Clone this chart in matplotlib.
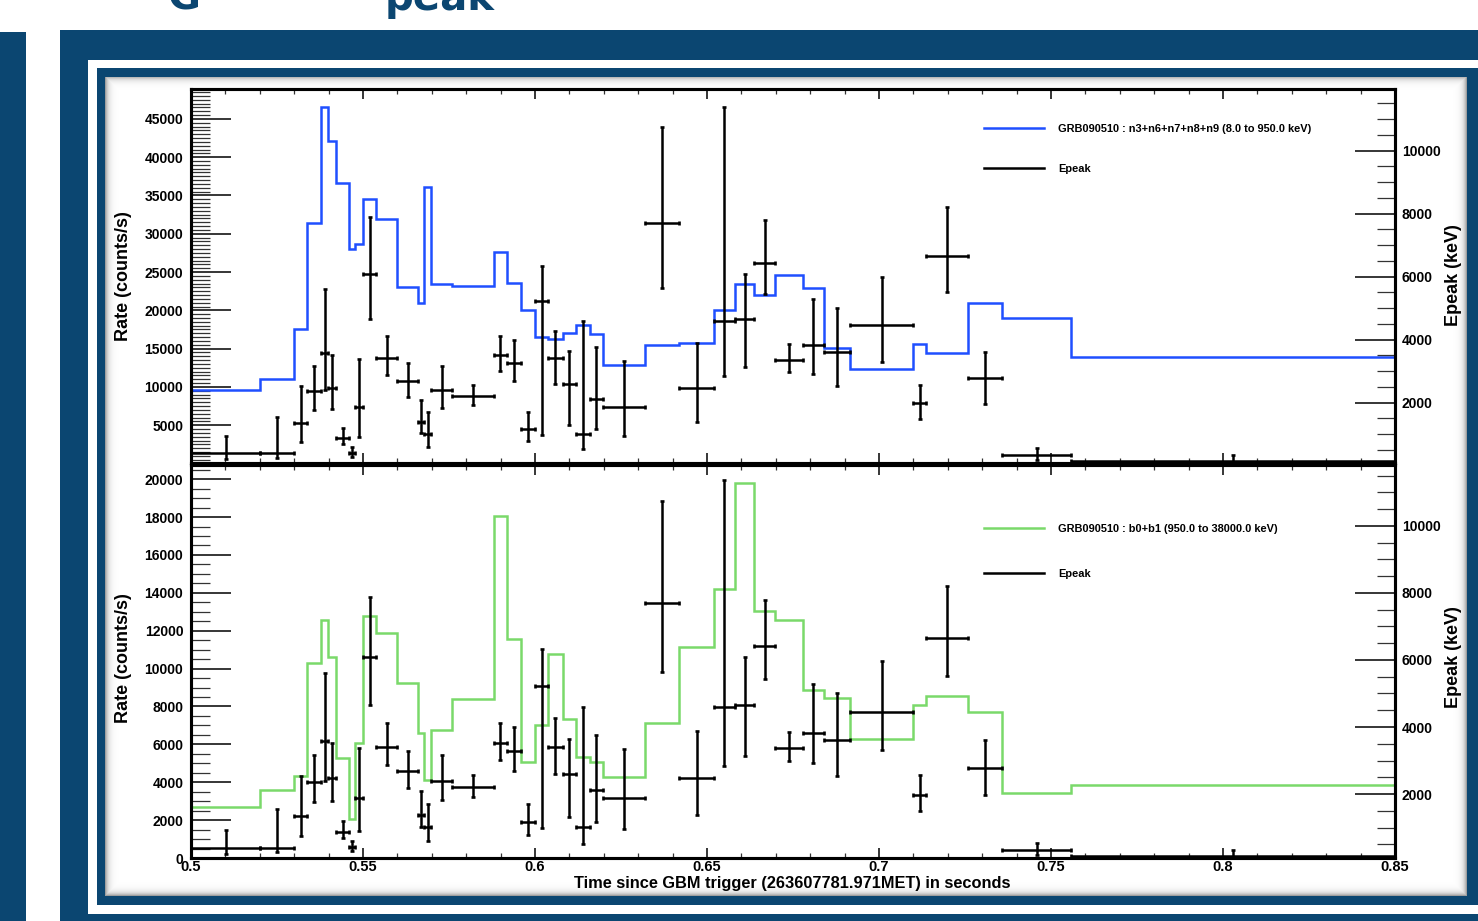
import numpy as np
import matplotlib
matplotlib.use('Agg')
import matplotlib.pyplot as plt
from matplotlib.patches import Rectangle
from matplotlib.lines import Line2D
from matplotlib.ticker import MultipleLocator, FuncFormatter, FixedLocator

plt.rcParams['font.family'] = ['Liberation Sans', 'DejaVu Sans']
plt.rcParams['font.weight'] = 'bold'

# ---------------- data ----------------
bin_edges = [0.500, 0.5202, 0.5300, 0.5338, 0.5379, 0.5399, 0.5422, 0.5459, 0.5478, 0.5501,
             0.5539, 0.5600, 0.5660, 0.5678, 0.5698, 0.5760, 0.5880, 0.5918, 0.5959, 0.6000,
             0.6039, 0.6080, 0.6119, 0.6159, 0.6198, 0.6320, 0.6419, 0.6520, 0.6581, 0.6638,
             0.6698, 0.6778, 0.6839, 0.6917, 0.7100, 0.7138, 0.7259, 0.7359, 0.7559, 0.8500]
outer_edges = [0.48, 0.87]          # neighbouring bins just outside the plotted range

nai_rate = [9611, 11048, 17577, 31377, 46525, 42085, 36644, 28068, 28634, 34598,
            31899, 23019, 21016, 36078, 23454, 23193, 27676, 23585, 20015, 16576,
            16272, 17055, 18056, 16968, 12876, 15444, 15749, 20015, 23454, 22017,
            24586, 22932, 15053, 12397, 15662, 14443, 21016, 19057, 13964]
nai_outer = [9200, 9200]

bgo_rate = [2708, 3588, 4343, 10274, 12543, 10591, 5277, 2058, 6053, 12770,
            11890, 9219, 6612, 4100, 6739, 8375, 18047, 11573, 5082, 7018,
            10781, 7335, 5312, 5082, 4257, 7141, 11135, 14195, 19825, 13052,
            12543, 8865, 8425, 6280, 8074, 8566, 7722, 3412, 3852]
bgo_outer = [2000, 2000]

epeak = [400, 400, 1356, 2371, 3588, 2467, 869, 414, 1874, 6086,
         3408, 2678, 1387, 1006, 2403, 2223, 3514, 3271, 1155, 5218,
         3408, 2604, 1006, 2117, 1874, 7694, 2467, 4594, 4647, 6424,
         3366, 3832, 3599, 4456, 1980, 6668, 2774, 340, 150]
epeak_lo = [210, 260, 752, 1768, 2390, 1789, 689, 287, 901, 4647,
            2869, 2170, 1028, 604, 1832, 1916, 3006, 2699, 784, 975,
            2594, 1303, 520, 1176, 943, 5641, 1377, 2848, 3123, 5440,
            2985, 2911, 2530, 3303, 1493, 5525, 1969, 181, 120]
epeak_hi = [940, 1550, 2541, 3165, 5610, 3514, 1186, 604, 3377, 7895,
            4107, 3271, 2096, 1705, 3165, 2572, 4107, 4001, 1694, 6329,
            4276, 3652, 4594, 3758, 3334, 10742, 3895, 11377, 6086, 7789,
            3863, 5292, 5017, 5980, 2572, 8202, 3620, 551, 330]

nai_label = 'GRB090510 : n3+n6+n7+n8+n9 (8.0 to 950.0 keV)'
bgo_label = 'GRB090510 : b0+b1 (950.0 to 38000.0 keV)'
xlabel = 'Time since GBM trigger (263607781.971MET) in seconds'
ylabel_left = 'Rate (counts/s)'
ylabel_right = 'Epeak (keV)'

# ---------------- styling ----------------
W, H = 1478, 921
DARK = '#0b4671'
BLUE = '#1f4fff'
GREEN = '#7ad96a'

fig = plt.figure(figsize=(W / 100, H / 100), dpi=100)
fig.patch.set_facecolor('white')


def fx(px):
    return px / W


def fy(py):
    return 1 - py / H


def rect(x0, y0, x1, y1, color, z):
    fig.add_artist(Rectangle((fx(x0), fy(y1)), fx(x1) - fx(x0), fy(y0) - fy(y1),
                             transform=fig.transFigure, facecolor=color,
                             edgecolor='none', zorder=z))


# slide decoration
rect(0, 32, 26, 921, DARK, -6)
rect(60, 30, 1480, 921, DARK, -6)
rect(88, 60, 1480, 914, 'white', -5)
rect(97, 68, 1480, 905, DARK, -4)

# panel with soft inner shading
pw, ph = 1467 - 105, 896 - 77
yy, xx = np.mgrid[0:ph, 0:pw]
d = np.minimum.reduce([xx + 0.5, yy + 0.5, pw - xx - 0.5, ph - yy - 0.5])
shade = 1 - 0.45 * np.exp(-d / 3.0)
bgax = fig.add_axes([fx(105), fy(896), fx(1467) - fx(105), fy(77) - fy(896)])
bgax.imshow(shade, cmap='gray', vmin=0, vmax=1, aspect='auto', interpolation='nearest')
bgax.axis('off')
bgax.set_zorder(-1)

# slide title (cut off by the top edge, as in the reference)
fig.text(fx(168), fy(10), 'G', fontsize=29, fontweight='bold', color=DARK,
         family='DejaVu Sans', ha='left', va='baseline')
fig.text(fx(385), fy(10), 'peak', fontsize=29, fontweight='bold', color=DARK,
         family='DejaVu Sans', ha='left', va='baseline')

L, R = 191, 1395
axt = fig.add_axes([fx(L), fy(463.5), fx(R) - fx(L), fy(89) - fy(463.5)])
axb = fig.add_axes([fx(L), fy(858), fx(R) - fx(L), fy(465) - fy(858)])

edges = np.asarray(bin_edges)
ext_edges = np.concatenate([[outer_edges[0]], edges, [outer_edges[1]]])
centers = 0.5 * (edges[1:] + edges[:-1])
halfw = 0.5 * (edges[1:] - edges[:-1])
ep = np.asarray(epeak)
yerr = [ep - np.asarray(epeak_lo), np.asarray(epeak_hi) - ep]

int_fmt = FuncFormatter(lambda v, p: f'{int(round(v))}')
x_fmt = FuncFormatter(lambda v, p: f'{v:g}')

panels = [
    (axt, nai_rate, nai_outer, BLUE, nai_label, (0, 48900), list(range(5000, 45001, 5000)),
     (70, 11960), 124, 42),
    (axb, bgo_rate, bgo_outer, GREEN, bgo_label, (0, 20750), list(range(0, 20001, 2000)),
     (90, 11820), 524, 47),
]

for ax, rate, outer, col, lab, ylim, yt, ylim2, leg_top, leg_gap in panels:
    vals = np.concatenate([[outer[0]], rate, [outer[1]]])
    ax.stairs(vals, ext_edges, color=col, lw=1.8, zorder=2)
    ax.set_xlim(0.5, 0.85)
    ax.set_ylim(*ylim)
    ax.yaxis.set_major_locator(FixedLocator(yt))
    ax.yaxis.set_minor_locator(MultipleLocator(500))
    ax.yaxis.set_major_formatter(int_fmt)
    ax.xaxis.set_major_locator(MultipleLocator(0.05))
    ax.xaxis.set_minor_locator(MultipleLocator(0.01))
    ax.xaxis.set_major_formatter(x_fmt)
    ax.tick_params(axis='y', which='major', direction='in', length=29, width=1.1,
                   labelsize=10, pad=5.5, left=True, right=False)
    ax.tick_params(axis='y', which='minor', direction='in', length=13.5, width=0.9,
                   left=True, right=False, color='#333333')
    ax.tick_params(axis='x', which='major', direction='in', length=7.5, width=1.1,
                   labelsize=10.5, pad=1.5, top=True, bottom=True)
    ax.tick_params(axis='x', which='minor', direction='in', length=3.8, width=0.9,
                   top=True, bottom=True, color='#333333')
    for s in ax.spines.values():
        s.set_linewidth(2.2)

    ax2 = ax.twinx()
    ax2.errorbar(centers, ep, xerr=halfw, yerr=yerr, fmt='none', ecolor='black',
                 elinewidth=1.8, capsize=1.7, capthick=1.9, zorder=3)
    ax2.set_ylim(*ylim2)
    ax2.yaxis.set_major_locator(FixedLocator(list(range(2000, 10001, 2000))))
    ax2.yaxis.set_minor_locator(MultipleLocator(500))
    ax2.yaxis.set_major_formatter(int_fmt)
    ax2.tick_params(axis='y', which='major', direction='in', length=29, width=1.1,
                    labelsize=10, pad=5, right=True, left=False)
    ax2.tick_params(axis='y', which='minor', direction='in', length=13, width=0.9,
                    right=True, left=False, color='#333333')
    for s in ax2.spines.values():
        s.set_linewidth(2.2)

    handles = [Line2D([], [], color=col, lw=1.8), Line2D([], [], color='black', lw=1.8)]
    fs = 7.9
    em = fs * 100 / 72
    ax2.legend(handles, [lab, 'Epeak'], loc='upper left',
               bbox_to_anchor=(fx(984), fy(leg_top)), bbox_transform=fig.transFigure,
               frameon=False, fontsize=fs, borderpad=0, borderaxespad=0,
               handlelength=60 / em, handletextpad=14 / em,
               labelspacing=(leg_gap - 12) / em)

axt.tick_params(axis='x', labelbottom=False)

# axis titles
fig.text(fx(123), fy(276), ylabel_left, rotation=90, fontsize=13, fontweight='bold',
         ha='center', va='center')
fig.text(fx(123), fy(658), ylabel_left, rotation=90, fontsize=13, fontweight='bold',
         ha='center', va='center')
fig.text(fx(1453), fy(275), ylabel_right, rotation=90, fontsize=13, fontweight='bold',
         ha='center', va='center')
fig.text(fx(1453), fy(657), ylabel_right, rotation=90, fontsize=13, fontweight='bold',
         ha='center', va='center')
fig.text(fx(792), fy(883), xlabel, fontsize=11.8, fontweight='bold', ha='center', va='center')

fig.savefig('out.png', dpi=100)
